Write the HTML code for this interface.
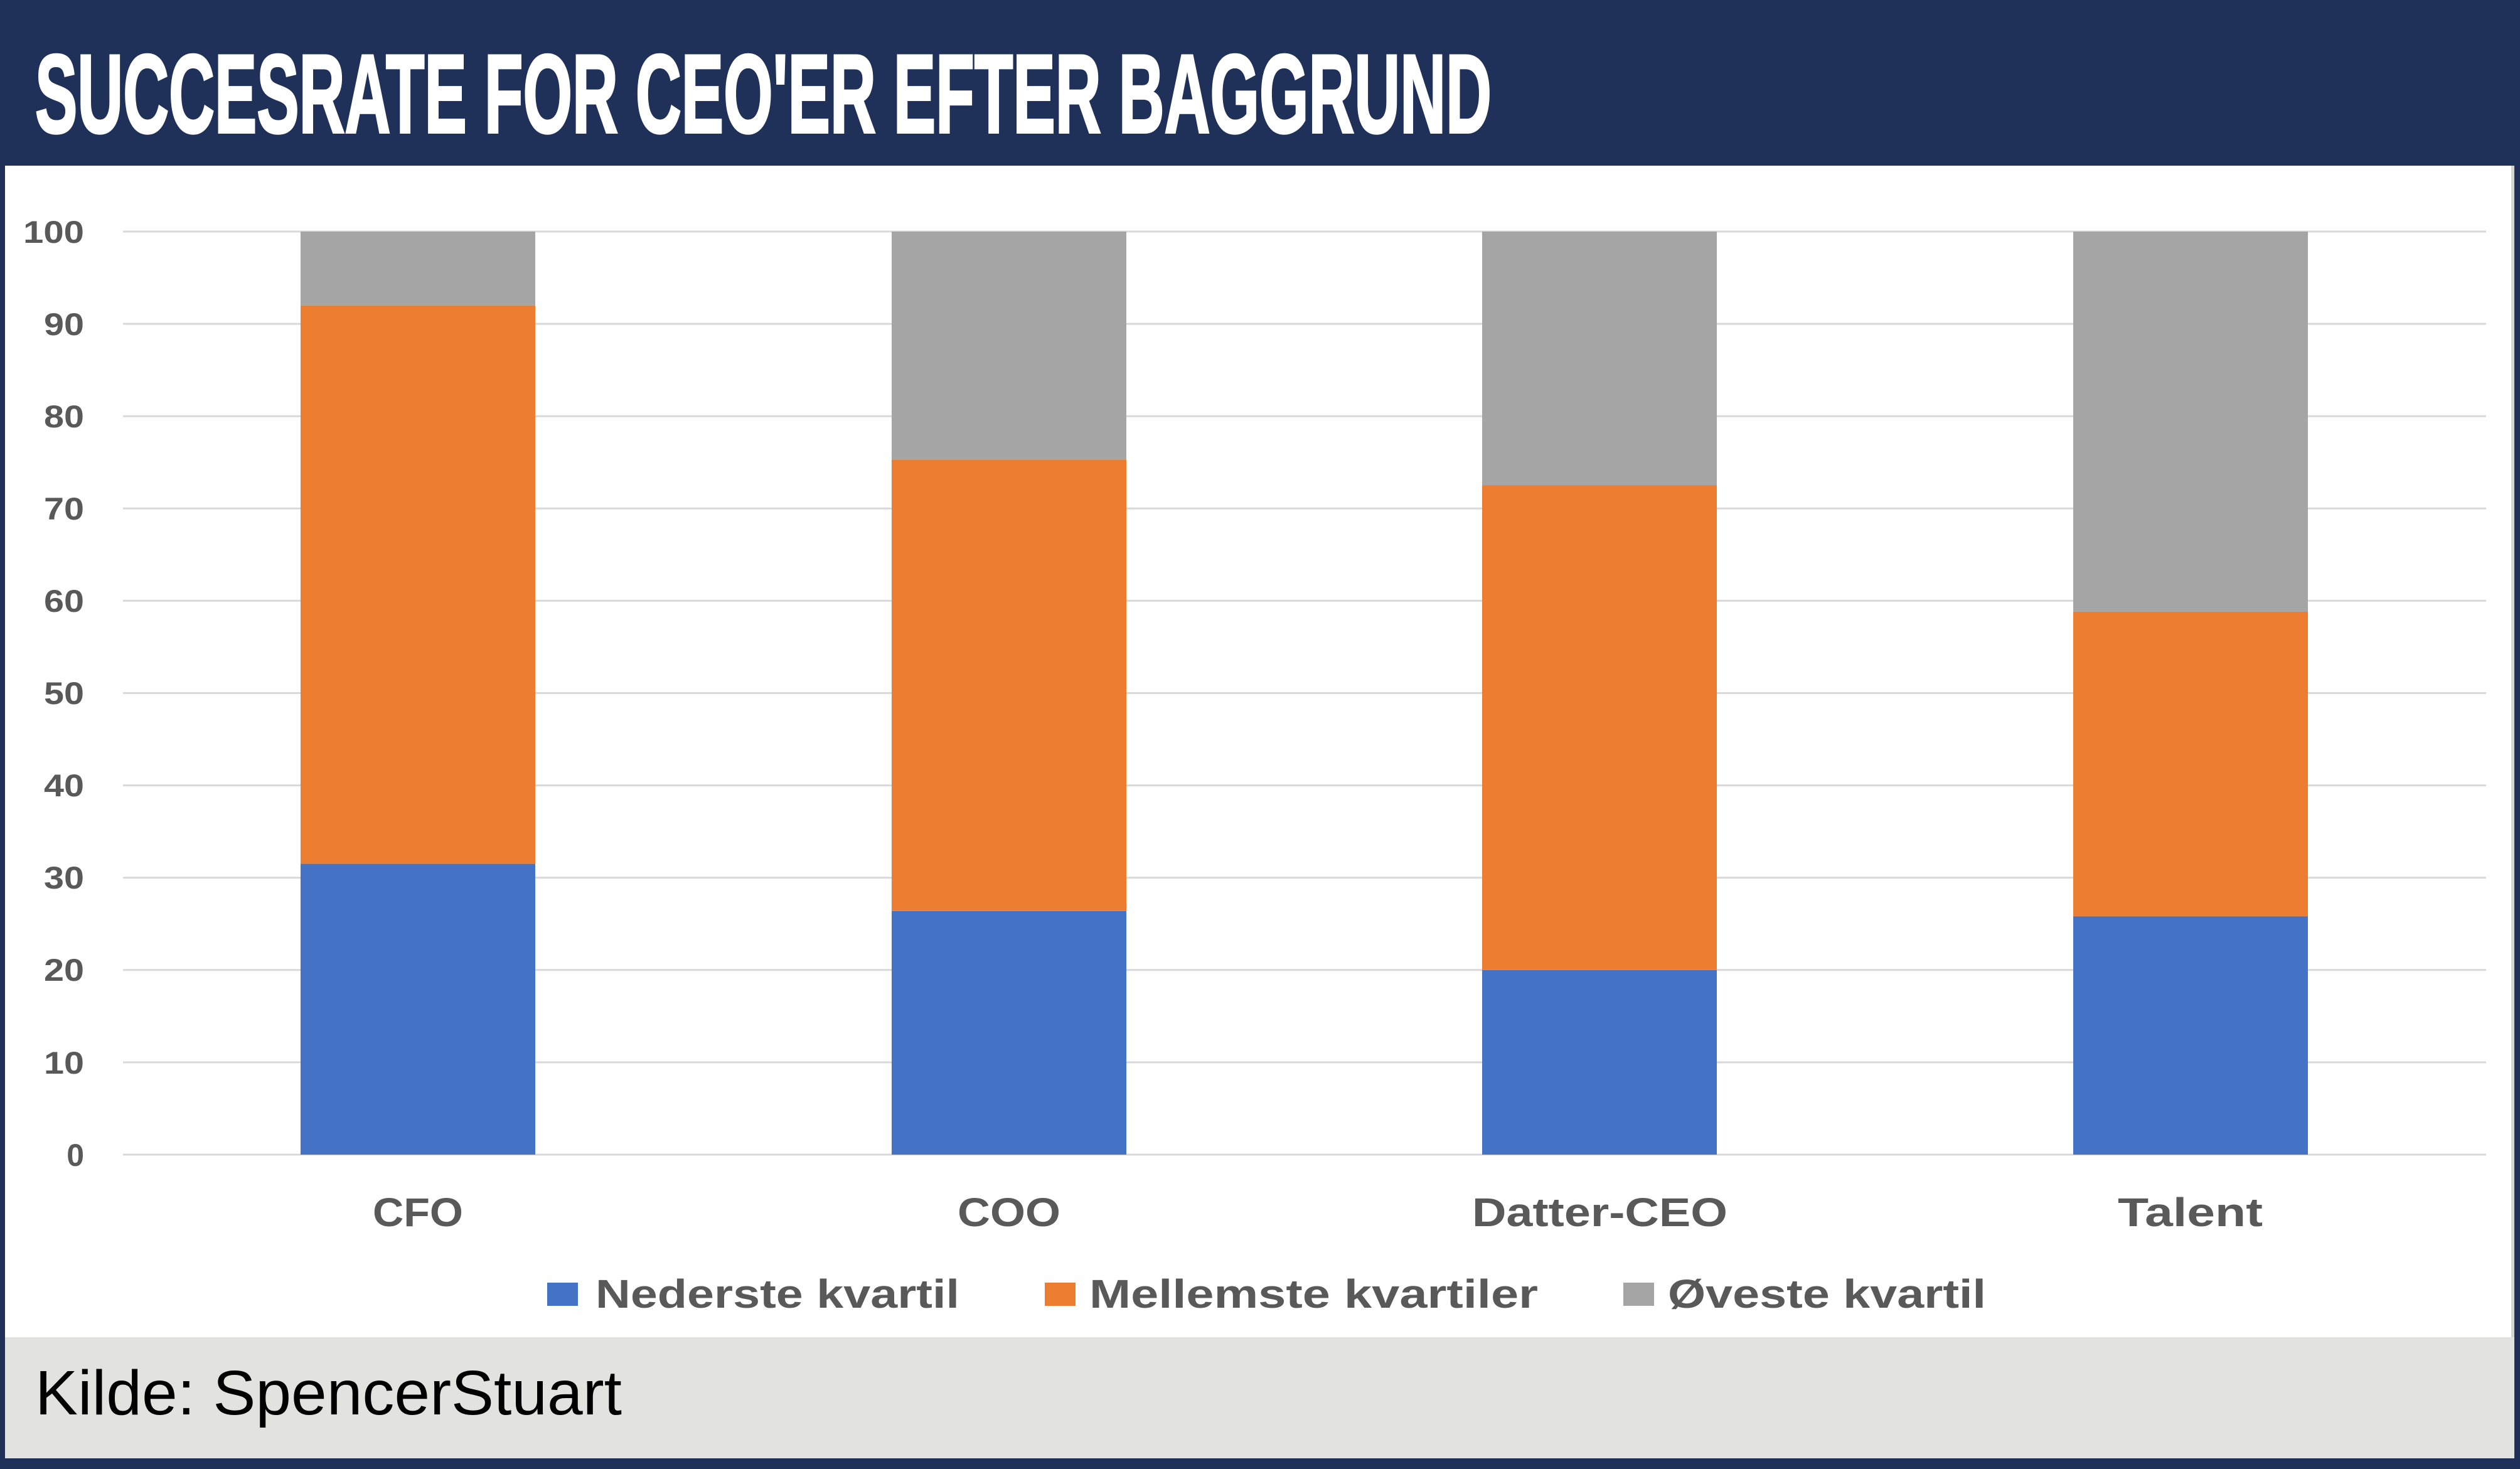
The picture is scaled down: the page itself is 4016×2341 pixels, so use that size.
<!DOCTYPE html>
<html><head><meta charset="utf-8"><style>
html,body{margin:0;padding:0;background:#1f3059;}
svg{display:block}
</style></head><body>
<svg width="4016" height="2341" viewBox="0 0 4016 2341" xmlns="http://www.w3.org/2000/svg">
<rect x="0" y="0" width="4016" height="2341" fill="#1f3059"/>
<rect x="8" y="264" width="3994" height="1868" fill="#ffffff"/>
<rect x="4002" y="264" width="5" height="1868" fill="#d4d4d4"/>
<rect x="8" y="2131" width="3999" height="193" fill="#e2e2e1"/>
<text x="56" y="211" font-family="'Liberation Sans Narrow','Liberation Sans',sans-serif" font-weight="bold" font-size="178" fill="#ffffff" stroke="#ffffff" stroke-width="4" textLength="2321" lengthAdjust="spacingAndGlyphs">SUCCESRATE FOR CEO'ER EFTER BAGGRUND</text>
<g stroke="#d9d9d9" stroke-width="3">
<line x1="196" x2="3962" y1="369" y2="369"/>
<line x1="196" x2="3962" y1="516.1" y2="516.1"/>
<line x1="196" x2="3962" y1="663.2" y2="663.2"/>
<line x1="196" x2="3962" y1="810.3" y2="810.3"/>
<line x1="196" x2="3962" y1="957.4" y2="957.4"/>
<line x1="196" x2="3962" y1="1104.5" y2="1104.5"/>
<line x1="196" x2="3962" y1="1251.6" y2="1251.6"/>
<line x1="196" x2="3962" y1="1398.7" y2="1398.7"/>
<line x1="196" x2="3962" y1="1545.8" y2="1545.8"/>
<line x1="196" x2="3962" y1="1692.9" y2="1692.9"/>
<line x1="196" x2="3962" y1="1840" y2="1840"/>
</g>
<g font-family="'Liberation Sans',sans-serif" font-weight="bold" font-size="50" fill="#595959" text-anchor="end">
<text x="134" y="387" textLength="97" lengthAdjust="spacingAndGlyphs">100</text>
<text x="134" y="534" textLength="64" lengthAdjust="spacingAndGlyphs">90</text>
<text x="134" y="681" textLength="64" lengthAdjust="spacingAndGlyphs">80</text>
<text x="134" y="828" textLength="64" lengthAdjust="spacingAndGlyphs">70</text>
<text x="134" y="975" textLength="64" lengthAdjust="spacingAndGlyphs">60</text>
<text x="134" y="1122" textLength="64" lengthAdjust="spacingAndGlyphs">50</text>
<text x="134" y="1269" textLength="64" lengthAdjust="spacingAndGlyphs">40</text>
<text x="134" y="1416" textLength="64" lengthAdjust="spacingAndGlyphs">30</text>
<text x="134" y="1563" textLength="64" lengthAdjust="spacingAndGlyphs">20</text>
<text x="134" y="1711" textLength="64" lengthAdjust="spacingAndGlyphs">10</text>
<text x="134" y="1858">0</text>
</g>
<g>
<rect x="479" y="1376.6" width="374" height="463.4" fill="#4472c4"/>
<rect x="479" y="486.7" width="374" height="889.9" fill="#ed7d31"/>
<rect x="479" y="369" width="374" height="117.7" fill="#a5a5a5"/>

<rect x="1421" y="1451.7" width="374" height="388.3" fill="#4472c4"/>
<rect x="1421" y="732.3" width="374" height="719.4" fill="#ed7d31"/>
<rect x="1421" y="369" width="374" height="363.3" fill="#a5a5a5"/>

<rect x="2362" y="1545.8" width="374" height="294.2" fill="#4472c4"/>
<rect x="2362" y="773.5" width="374" height="772.3" fill="#ed7d31"/>
<rect x="2362" y="369" width="374" height="404.5" fill="#a5a5a5"/>

<rect x="3304" y="1460.5" width="374" height="379.5" fill="#4472c4"/>
<rect x="3304" y="975" width="374" height="485.5" fill="#ed7d31"/>
<rect x="3304" y="369" width="374" height="606" fill="#a5a5a5"/>
</g>
<g font-family="'Liberation Sans',sans-serif" font-weight="bold" font-size="64" fill="#595959">
<text x="594" y="1954" textLength="144" lengthAdjust="spacingAndGlyphs">CFO</text>
<text x="1526" y="1954" textLength="164" lengthAdjust="spacingAndGlyphs">COO</text>
<text x="2346" y="1954" textLength="407" lengthAdjust="spacingAndGlyphs">Datter-CEO</text>
<text x="3375" y="1954" textLength="231" lengthAdjust="spacingAndGlyphs">Talent</text>
</g>
<rect x="872" y="2044" width="49" height="37" fill="#4472c4"/>
<rect x="1665" y="2044" width="49" height="37" fill="#ed7d31"/>
<rect x="2587" y="2044" width="49" height="37" fill="#a5a5a5"/>
<g font-family="'Liberation Sans',sans-serif" font-weight="bold" font-size="64" fill="#595959">
<text x="949" y="2084" textLength="580" lengthAdjust="spacingAndGlyphs">Nederste kvartil</text>
<text x="1736" y="2084" textLength="715" lengthAdjust="spacingAndGlyphs">Mellemste kvartiler</text>
<text x="2658" y="2084" textLength="507" lengthAdjust="spacingAndGlyphs">Øveste kvartil</text>
</g>
<text x="56" y="2254" font-family="'Liberation Sans',sans-serif" font-size="100" fill="#000000" textLength="935" lengthAdjust="spacingAndGlyphs">Kilde: SpencerStuart</text>
</svg>
</body></html>
